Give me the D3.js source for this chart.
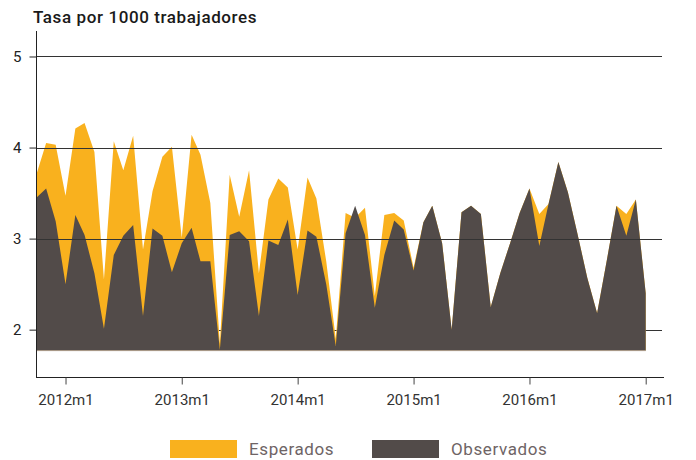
<!DOCTYPE html>
<html>
<head>
<meta charset="utf-8">
<script src="https://cdn.jsdelivr.net/npm/d3@7"></script>
<style>
  body { margin: 0; background: #fff; }
  svg { display: block; font-family: Roboto, "DejaVu Sans", sans-serif; }
</style>
</head>
<body>
<div id="vis"></div>
<script>
//-- Data (monthly, 2011m10 .. 2017m1)
var esperados = [
  3.70, 4.05, 4.03, 3.47, 4.21, 4.27, 3.95, 2.55, 4.07, 3.75, 4.13, 2.88,
  3.52, 3.90, 4.01, 3.01, 4.14, 3.92, 3.39, 1.85, 3.70, 3.24, 3.75, 2.62,
  3.43, 3.66, 3.56, 2.88, 3.67, 3.44, 2.75, 1.90, 3.28, 3.23, 3.34, 2.37,
  3.26, 3.28, 3.20, 2.68, 3.18, 3.36, 2.95, 2.00, 3.29, 3.36, 3.27, 2.25,
  2.62, 2.95, 3.28, 3.55, 3.27, 3.38, 3.84, 3.51, 3.04, 2.57, 2.18, 2.77,
  3.36, 3.27, 3.43, 2.40
];
var observados = [
  3.45, 3.55, 3.19, 2.50, 3.26, 3.04, 2.62, 2.01, 2.82, 3.03, 3.15, 2.15,
  3.11, 3.03, 2.63, 2.95, 3.12, 2.75, 2.75, 1.78, 3.04, 3.08, 2.97, 2.15,
  2.98, 2.93, 3.21, 2.38, 3.09, 3.02, 2.50, 1.82, 3.06, 3.36, 3.04, 2.24,
  2.82, 3.20, 3.10, 2.65, 3.18, 3.36, 2.95, 2.00, 3.29, 3.36, 3.27, 2.25,
  2.62, 2.95, 3.28, 3.55, 2.92, 3.38, 3.84, 3.51, 3.04, 2.57, 2.18, 2.77,
  3.36, 3.03, 3.43, 2.40
];
var yTicks = [2, 3, 4, 5];
var xTickYears = [2012, 2013, 2014, 2015, 2016, 2017];
var seriesNames = ["Esperados", "Observados"];
var seriesColors = ["#f9b11e", "#524b49"];
var baseValue = 1.77;

var width = 696;
var height = 460;

var months = esperados.map(function (d, i) {
  return new Date(2011, 9 + i, 1);
});

var svg = d3.select("#vis").append("svg")
  .attr("width", width)
  .attr("height", height)
  .attr("viewBox", [0, 0, width, height]);

var x = d3.scaleTime()
  .domain([months[0], months[months.length - 1]])
  .range([36.3, 645.7]);

var y = d3.scaleLinear()
  .domain([1.48, 5.28])
  .range([377, 31]);

// title
svg.append("text")
  .attr("x", 33)
  .attr("y", 23)
  .attr("font-size", 17)
  .attr("font-weight", 500)
  .attr("letter-spacing", 0.6)
  .attr("fill", "#1a1a1a")
  .text("Tasa por 1000 trabajadores");

// gridline under the areas (2)
function gridLine(v) {
  svg.append("line")
    .attr("x1", 36).attr("x2", 662)
    .attr("y1", Math.round(y(v)) + 0.5).attr("y2", Math.round(y(v)) + 0.5)
    .attr("stroke", "#333")
    .attr("stroke-width", 1.2);
}
gridLine(2);

var area = function (vals) {
  return d3.area()
    .x(function (d, i) { return x(months[i]); })
    .y0(y(baseValue))
    .y1(function (d) { return y(d); })(vals);
};

svg.append("path")
  .attr("d", area(esperados))
  .attr("fill", seriesColors[0]);

svg.append("path")
  .attr("d", area(observados))
  .attr("fill", seriesColors[1]);

// thin bottom edge of areas
svg.append("line")
  .attr("x1", x(months[0])).attr("x2", x(months[months.length - 1]))
  .attr("y1", y(baseValue)).attr("y2", y(baseValue))
  .attr("stroke", "#a8998a")
  .attr("stroke-width", 1);

// other gridlines on top
yTicks.filter(function (v) { return v > 2; }).forEach(gridLine);

// y axis
var yAxis = svg.append("g")
  .attr("transform", "translate(36.5,0)")
  .call(d3.axisLeft(y).tickValues(yTicks).tickSize(7).tickPadding(8).tickFormat(d3.format("d")));
yAxis.select(".domain").attr("d", "M0," + 31 + "V" + 377).attr("stroke", "#222");
yAxis.selectAll(".tick line").attr("stroke", "#222");
yAxis.selectAll("text")
  .attr("font-size", 15)
  .attr("font-family", "Roboto, sans-serif")
  .attr("fill", "#222");

// x axis
var xAxis = svg.append("g")
  .attr("transform", "translate(0,377.5)")
  .call(d3.axisBottom(x)
    .tickValues(xTickYears.map(function (yr) { return new Date(yr, 0, 1); }))
    .tickSize(7).tickPadding(10)
    .tickFormat(function (d) { return d.getFullYear() + "m1"; }));
xAxis.select(".domain").attr("d", "M36,0H664").attr("stroke", "#222");
xAxis.selectAll(".tick line").attr("stroke", "#444");
xAxis.selectAll("text")
  .attr("font-size", 15)
  .attr("font-family", "Roboto, sans-serif")
  .attr("fill", "#333");

// legend
var legend = svg.append("g").attr("transform", "translate(170,440)");
seriesNames.forEach(function (name, i) {
  var g = legend.append("g").attr("transform", "translate(" + (i * 202) + ",0)");
  g.append("rect")
    .attr("width", 67).attr("height", 18)
    .attr("fill", seriesColors[i]);
  g.append("text")
    .attr("x", 79).attr("y", 15)
    .attr("font-size", 17)
    .attr("letter-spacing", 0.6)
    .attr("fill", "#6e6465")
    .text(name);
});
</script>
</body>
</html>
